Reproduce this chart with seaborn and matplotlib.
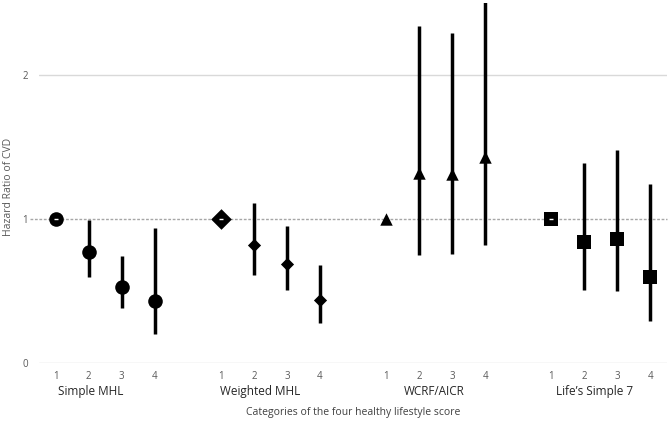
import matplotlib
matplotlib.use("Agg")
import matplotlib.pyplot as plt
import matplotlib.transforms as mtransforms
import seaborn as sns
import pandas as pd
import numpy as np

# ---- data ----
scores = ["Simple MHL", "Weighted MHL", "WCRF/AICR", "Life\u2019s Simple 7"]
categories = ["1", "2", "3", "4"]
hr_simple = [1.00, 0.77, 0.53, 0.43]
lo_simple = [1.00, 0.60, 0.38, 0.20]
hi_simple = [1.00, 0.99, 0.74, 0.94]
hr_weighted = [1.00, 0.82, 0.69, 0.44]
lo_weighted = [1.00, 0.61, 0.51, 0.28]
hi_weighted = [1.00, 1.11, 0.95, 0.68]
hr_wcrf = [1.00, 1.32, 1.31, 1.43]
lo_wcrf = [1.00, 0.75, 0.76, 0.82]
hi_wcrf = [1.00, 2.34, 2.29, 2.51]
hr_ls7 = [1.00, 0.84, 0.86, 0.60]
lo_ls7 = [1.00, 0.51, 0.50, 0.29]
hi_ls7 = [1.00, 1.39, 1.48, 1.24]

hrs = [hr_simple, hr_weighted, hr_wcrf, hr_ls7]
los = [lo_simple, lo_weighted, lo_wcrf, lo_ls7]
his = [hi_simple, hi_weighted, hi_wcrf, hi_ls7]

rows = []
for g, s in enumerate(scores):
    for c, cat in enumerate(categories):
        rows.append(dict(score=s, cat=cat, pos=g * 5 + c,
                         hr=hrs[g][c], lo=los[g][c], hi=his[g][c]))
df = pd.DataFrame(rows)

sns.set_theme(style="white")
plt.rcParams["font.family"] = ["Open Sans", "DejaVu Sans"]

fig = plt.figure(figsize=(6.68, 4.26), dpi=100)
ax = fig.add_axes([39 / 668, 63 / 426, 628 / 668, 360 / 426])

ax.set_xlim(-0.5, 18.5)
ax.set_ylim(0, 2.5)

# gridlines
for yv in [0, 2]:
    ax.axhline(yv, color="#d9d9d9", lw=1.0, zorder=0)
ax.axhline(1, xmin=-0.014, xmax=1.0, color="#a6a6a6", lw=1.0,
           ls=(0, (2, 1.2)), zorder=0, clip_on=False)

# error bars
ax.vlines(df["pos"], df["lo"], df["hi"], color="black", lw=2.5, zorder=2)

markers = ["o", "D", "^", "s"]
sizes_ref = [110, 110, 80, 90]
sizes_other = [110, 45, 80, 90]
for g, s in enumerate(scores):
    sub = df[df["score"] == s]
    ref = sub[sub["cat"] == "1"]
    oth = sub[sub["cat"] != "1"]
    sns.scatterplot(data=ref, x="pos", y="hr", marker=markers[g], s=sizes_ref[g],
                    color="black", edgecolor="black", linewidth=0, ax=ax, zorder=3,
                    legend=False)
    sns.scatterplot(data=oth, x="pos", y="hr", marker=markers[g], s=sizes_other[g],
                    color="black", edgecolor="black", linewidth=0, ax=ax, zorder=3,
                    legend=False, clip_on=False)

# small white dash inside reference markers (not on the triangle)
refs = df[(df["cat"] == "1") & (df["score"] != "WCRF/AICR")]
ax.scatter(refs["pos"], refs["hr"], marker="_", s=10, color="white", lw=1, zorder=4)

for sp in ax.spines.values():
    sp.set_visible(False)

ax.set_xticks(df["pos"])
ax.set_xticklabels(df["cat"])
ax.set_yticks([0, 1, 2])
ax.set_yticklabels(["0", "1", "2"])
ax.tick_params(axis="both", length=0, labelsize=7, colors="#595959")
ax.tick_params(axis="x", pad=6)
ax.tick_params(axis="y", pad=8)

ax.set_xlabel("")
ax.set_ylabel("Hazard Ratio of CVD", fontsize=7.5, color="#595959")
ax.yaxis.set_label_coords((14 - 39) / 628, 0.49)

trans = mtransforms.blended_transform_factory(ax.transData, ax.transAxes)
group_x = [1.06, 6.18, 11.45, 16.3]
for gx, s in zip(group_x, scores):
    ax.text(gx, -0.078, s, transform=trans, ha="center", va="center",
            fontsize=8.5, color="#262626")

ax.text(0.5, -0.137, "Categories of the four healthy lifestyle score",
        transform=ax.transAxes, ha="center", va="center", fontsize=7.5,
        color="#404040")

fig.savefig("out.png", dpi=100)
